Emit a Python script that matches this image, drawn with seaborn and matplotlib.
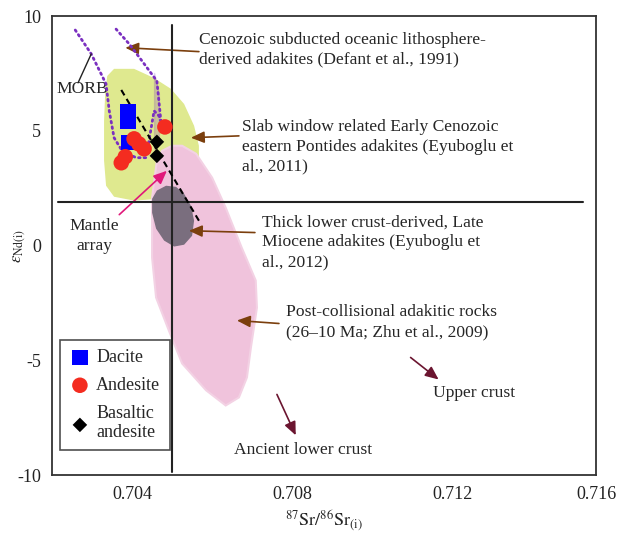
import matplotlib
matplotlib.use("Agg")
import matplotlib.pyplot as plt
import seaborn as sns
from matplotlib.patches import Polygon

sns.set_style("white")
plt.rcParams['font.family'] = ['Liberation Serif', 'DejaVu Serif']
plt.rcParams['mathtext.fontset'] = 'stix'
plt.rcParams['axes.unicode_minus'] = False

# ---- data ----
dacite_sr = [0.7039, 0.7039, 0.70391]
dacite_nd = [5.83, 5.39, 4.48]
andesite_sr = [0.70482, 0.70405, 0.70417, 0.7043, 0.70383, 0.70373]
andesite_nd = [5.17, 4.65, 4.43, 4.22, 3.87, 3.61]
basaltic_sr = [0.70462, 0.70462]
basaltic_nd = [4.52, 3.91]

slab_sr = [0.70338, 0.70355, 0.70405, 0.70455, 0.70497, 0.7053, 0.70555, 0.70567,
           0.70567, 0.7053, 0.70467, 0.70405, 0.70355, 0.70335, 0.7033, 0.7033, 0.70333]
slab_nd = [7.39, 7.70, 7.70, 7.30, 6.83, 6.17, 5.22, 4.35,
           3.48, 2.61, 2.04, 1.96, 2.13, 2.61, 3.70, 5.43, 6.74]

post_sr = [0.705, 0.70525, 0.7056, 0.7060, 0.70634, 0.70674, 0.70709, 0.70712, 0.70697,
           0.70687, 0.70667, 0.70634, 0.70585, 0.70525, 0.70492, 0.7046, 0.7045, 0.7045,
           0.70462, 0.70475]
post_nd = [4.35, 4.35, 4.0, 2.96, 1.65, -0.09, -1.52, -2.70, -4.43,
           -5.74, -6.61, -6.96, -6.30, -5.13, -3.70, -2.26, -0.52, 2.09,
           3.70, 4.13]

thick_sr = [0.70462, 0.70485, 0.7051, 0.7053, 0.70547, 0.70555, 0.7055, 0.7053,
            0.70505, 0.7048, 0.7046, 0.7045, 0.7045]
thick_nd = [2.40, 2.61, 2.56, 2.26, 1.74, 1.09, 0.43, 0.04,
            -0.04, 0.22, 0.74, 1.43, 2.04]

morb_sr = [0.70258, 0.70298, 0.70335, 0.70343, 0.70355, 0.70375, 0.7041, 0.70435,
           0.70455, 0.70467, 0.70472, 0.70467, 0.70462, 0.70455, 0.70425, 0.70393, 0.7036]
morb_nd = [9.39, 8.35, 7.04, 5.87, 4.70, 4.13, 3.83, 3.83,
           4.22, 4.70, 5.43, 6.61, 7.17, 7.52, 8.04, 8.78, 9.43]

mantle_sr = [0.70373, 0.7057]
mantle_nd = [6.78, 1.0]

bulk_sr = 0.705
bulk_nd = 1.9

xticks = [0.704, 0.708, 0.712, 0.7156]
xticklabels = ['0.704', '0.708', '0.712', '0.716']
yticks = [-10, -5, 0, 5, 10]

# ---- figure ----
fig = plt.figure(figsize=(6.27, 5.34), dpi=100)
ax = fig.add_axes([0.083, 0.110, 0.868, 0.860])
ax.set_xlim(0.702, 0.7156)
ax.set_ylim(-10, 10)

ax.add_patch(Polygon(list(zip(slab_sr, slab_nd)), closed=True, facecolor='#dfe98f',
                     edgecolor='none', zorder=1))
ax.add_patch(Polygon(list(zip(post_sr, post_nd)), closed=True, facecolor='#f0c3dc',
                     edgecolor='#f3d2e4', lw=1.5, zorder=2))
ax.add_patch(Polygon(list(zip(thick_sr, thick_nd)), closed=True, facecolor='#7a6e7e',
                     edgecolor='none', zorder=3))

# reference lines
ax.plot([bulk_sr, bulk_sr], [9.6, -9.87], color='#222222', lw=1.5, zorder=4)
ax.plot([0.70215, 0.71527], [bulk_nd, bulk_nd], color='#222222', lw=1.5, zorder=4)

# MORB and mantle array
sns.lineplot(x=morb_sr, y=morb_nd, sort=False, ax=ax, color='#7a2fc0', lw=2,
             linestyle=(0, (0.6, 1.4)), dash_capstyle='round', zorder=5)
sns.lineplot(x=mantle_sr, y=mantle_nd, sort=False, ax=ax, color='black', lw=1.5,
             linestyle=(0, (3, 2)), zorder=5)

# data points
sns.scatterplot(x=dacite_sr, y=dacite_nd, marker='s', color='#0000ff', s=120,
                edgecolor='none', ax=ax, label='Dacite', zorder=6)
sns.scatterplot(x=andesite_sr, y=andesite_nd, marker='o', color='#f42c20', s=125,
                edgecolor='none', ax=ax, label='Andesite', zorder=7)
sns.scatterplot(x=basaltic_sr, y=basaltic_nd, marker='D', color='black', s=55,
                edgecolor='none', ax=ax, label='Basaltic\nandesite', zorder=8)

# annotations
brown = '#7b3f0d'
maroon = '#6b1530'
fs = 12.6
ls = 1.32
astyle = '-|>,head_length=0.8,head_width=0.35'

def arrow(tip, tail, color):
    ax.annotate('', xy=tip, xytext=tail,
                arrowprops=dict(arrowstyle=astyle, color=color, lw=1.2,
                                shrinkA=0, shrinkB=0))

arrow((0.70383, 8.62), (0.70567, 8.45), brown)
ax.text(0.70567, 9.32, 'Cenozoic subducted oceanic lithosphere-\nderived adakites (Defant et al., 1991)',
        ha='left', va='top', fontsize=fs, linespacing=ls)

arrow((0.70547, 4.70), (0.70667, 4.78), brown)
ax.text(0.70674, 5.52, 'Slab window related Early Cenozoic\neastern Pontides adakites (Eyuboglu et\nal., 2011)',
        ha='left', va='top', fontsize=fs, linespacing=ls)

arrow((0.70542, 0.65), (0.70707, 0.57), brown)
ax.text(0.70724, 1.35, 'Thick lower crust-derived, Late\nMiocene adakites (Eyuboglu et\nal., 2012)',
        ha='left', va='top', fontsize=fs, linespacing=ls)

arrow((0.70662, -3.26), (0.70767, -3.39), brown)
ax.text(0.70784, -2.55, 'Post-collisional adakitic rocks\n(26\u201310 Ma; Zhu et al., 2009)',
        ha='left', va='top', fontsize=fs, linespacing=ls)

arrow((0.70487, 3.26), (0.70368, 1.35), '#e0187a')
ax.text(0.70305, 1.2, 'Mantle\narray', ha='center', va='top', fontsize=fs, linespacing=ls)

arrow((0.71166, -5.83), (0.71096, -4.87), maroon)
ax.text(0.71153, -6.43, 'Upper crust', ha='left', va='center', fontsize=fs)
arrow((0.70809, -8.26), (0.70762, -6.48), maroon)
ax.text(0.70654, -8.91, 'Ancient lower crust', ha='left', va='center', fontsize=fs)

ax.plot([0.70265, 0.70298], [7.09, 8.35], color='#222222', lw=1, zorder=5)
ax.text(0.70275, 6.83, 'MORB', ha='center', va='center', fontsize=fs)

# axes styling
ax.set_xticks(xticks)
ax.set_xticklabels(xticklabels)
ax.set_yticks(yticks)
ax.tick_params(direction='in', length=6, width=1.2, labelsize=13, pad=8, colors='#222222')
ax.tick_params(axis='x', length=7)
for sp in ax.spines.values():
    sp.set_color('#333333')
    sp.set_linewidth(1.3)
ax.set_xlabel(r'$^{87}\mathrm{Sr}/^{86}\mathrm{Sr}_{(\mathrm{i})}$', fontsize=13)
ax.xaxis.set_label_coords(0.5, -0.072)
ax.set_ylabel(r'$\varepsilon_{\mathrm{Nd(i)}}$', fontsize=12)
ax.yaxis.set_label_coords(-0.045, 0.5)

leg = ax.legend(loc='lower left', bbox_to_anchor=(0.0147, 0.054, 0.202, 0.253), mode='expand',
                frameon=True, fancybox=False, edgecolor='#222222', fontsize=13,
                handletextpad=0.3, borderpad=0.5, labelspacing=0.6, handlelength=1.2,
                borderaxespad=0)
leg.get_frame().set_linewidth(1.2)

fig.savefig('out.png', dpi=100)
